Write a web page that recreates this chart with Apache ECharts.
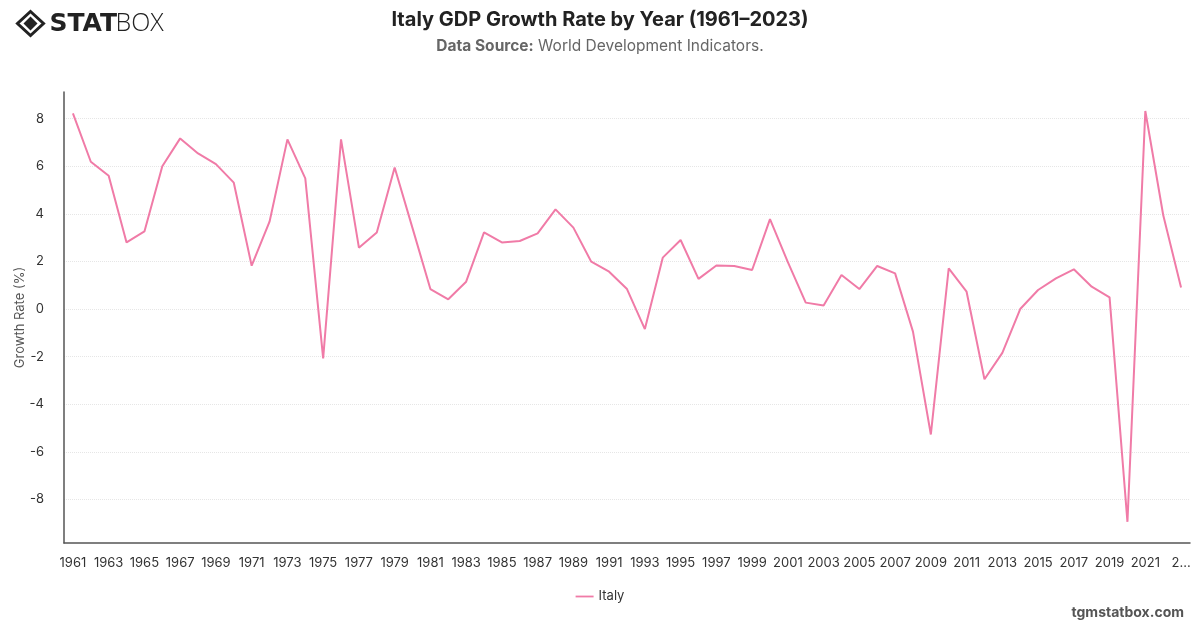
<!DOCTYPE html>
<html>
<head>
<meta charset="utf-8">
<title>Italy GDP Growth Rate by Year</title>
<script src="https://cdn.jsdelivr.net/npm/echarts@6/dist/echarts.min.js"></script>
<style>
  html, body { margin: 0; padding: 0; background: #fff; }
  #echart { width: 1200px; height: 628px; }
</style>
</head>
<body>
<div id="echart"></div>
<script>
// years on the x axis
var years = [];
for (var y = 1961; y <= 2023; y++) { years.push(String(y)); }

// GDP growth, %
var growth = [
  8.22, 6.19, 5.60, 2.80, 3.26, 6.00, 7.17, 6.54, 6.09, 5.31,
  1.82, 3.67, 7.13, 5.49, -2.07, 7.13, 2.58, 3.22, 5.95, 3.40,
  0.84, 0.41, 1.15, 3.22, 2.80, 2.86, 3.18, 4.19, 3.42, 1.99,
  1.57, 0.84, -0.84, 2.16, 2.90, 1.27, 1.83, 1.81, 1.64, 3.78,
  1.97, 0.27, 0.15, 1.43, 0.84, 1.81, 1.50, -0.95, -5.27, 1.71,
  0.73, -2.95, -1.84, 0.00, 0.80, 1.29, 1.67, 0.94, 0.49, -8.94,
  8.32, 3.95, 0.91
];

var seriesName = 'Italy';
var lineColor = '#f07ba7';

var myChart = echarts.init(document.getElementById('echart'));

var option = {
    animation: false,
    textStyle: { fontFamily: 'Inter, "Noto Sans", sans-serif' },
    title: {
        text: 'Italy GDP Growth Rate by Year (1961–2023)',
        subtext: '{b|Data Source:} World Development Indicators.',
        left: 'center',
        top: 5,
        itemGap: 8,
        textStyle: { fontSize: 20, fontWeight: 'bold', color: '#222' },
        subtextStyle: {
            fontSize: 15.5,
            color: '#666',
            rich: { b: { fontSize: 15.5, fontWeight: 'bold', color: '#666' } }
        }
    },
    legend: {
        data: [seriesName],
        bottom: 20,
        left: 'center',
        icon: 'path://M0,0 L20,0 L20,2 L0,2 Z',
        itemWidth: 18,
        itemHeight: 3,
        textStyle: { fontSize: 13, color: '#333' }
    },
    grid: {
        left: 64,
        right: 10,
        top: 92,
        bottom: 85
    },
    xAxis: {
        type: 'category',
        data: years,
        boundaryGap: true,
        axisLine: { onZero: false, lineStyle: { color: '#555', width: 1.5 } },
        axisTick: { show: false },
        axisLabel: {
            interval: 1,
            fontSize: 13,
            color: '#333',
            margin: 14,
            formatter: function (v, i) {
                // the last year is cut short at the chart edge
                return i === years.length - 1 ? '2...' : v;
            }
        }
    },
    yAxis: {
        type: 'value',
        min: -9.83,
        max: 9.12,
        splitNumber: 10,
        minInterval: 2,
        maxInterval: 2,
        name: 'Growth Rate (%)',
        nameLocation: 'middle',
        nameGap: 37,
        nameMoveOverlap: false,
        nameTextStyle: { fontSize: 13, color: '#555' },
        axisLine: { show: true, lineStyle: { color: '#555', width: 1.5 } },
        axisTick: { show: false },
        axisLabel: {
            fontSize: 13,
            color: '#333',
            margin: 20,
            showMinLabel: false,
            showMaxLabel: false
        },
        splitLine: {
            showMinLine: false,
            showMaxLine: false,
            lineStyle: { color: '#e6e6e6', type: 'dotted' }
        }
    },
    graphic: [
        // logo
        {
            type: 'group',
            left: 15,
            top: 9,
            children: [
                {
                    type: 'polygon',
                    shape: { points: [[13, 0], [26, 12], [13, 24], [0, 12]] },
                    style: { fill: 'none', stroke: '#222', lineWidth: 3 }
                },
                {
                    type: 'polygon',
                    shape: { points: [[13, 5], [20, 12], [13, 19], [6, 12]] },
                    style: { fill: '#222' }
                },
                {
                    type: 'text',
                    left: 32,
                    top: 0,
                    style: {
                        text: 'STAT',
                        font: '900 25px "DejaVu Sans", sans-serif',
                        fill: '#222'
                    }
                },
                {
                    type: 'text',
                    left: 98,
                    top: 0,
                    style: {
                        text: 'BOX',
                        font: '300 25px "Open Sans", sans-serif',
                        fill: '#222'
                    }
                }
            ]
        },
        {
            type: 'text',
            right: 16,
            bottom: 8,
            style: {
                text: 'tgmstatbox.com',
                font: 'bold 14px Inter, sans-serif',
                fill: '#555'
            }
        }
    ],
    series: [{
        name: seriesName,
        type: 'line',
        data: growth,
        showSymbol: false,
        symbol: 'none',
        lineStyle: { color: lineColor, width: 2 },
        itemStyle: { color: lineColor }
    }]
};

myChart.setOption(option);
window.onresize = myChart.resize;
</script>
</body>
</html>
